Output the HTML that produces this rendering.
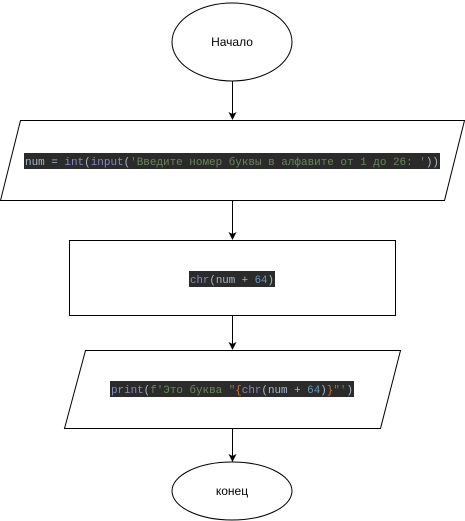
<!DOCTYPE html>
<html><head><meta charset="utf-8"><style>
body{margin:0;width:465px;height:521px;background:#fff;overflow:hidden}
svg{display:block}
.code{font-family:"Liberation Mono","DejaVu Sans Mono",monospace;font-size:10.8px}
</style></head><body>
<svg width="465" height="521" viewBox="0 0 465 521">
<defs><marker id="ah" markerWidth="8" markerHeight="8" refX="7" refY="4" orient="auto" markerUnits="userSpaceOnUse"><path d="M0,0 L8,4 L0,8 L2,4 z" fill="#000"/></marker></defs>
<g stroke="#000" stroke-width="1" fill="#fff">
<ellipse cx="232" cy="42" rx="60" ry="39"/>
<polygon points="20.5,120.5 464.5,120.5 444.5,200.5 0.5,200.5"/>
<rect x="69.5" y="240.5" width="326" height="75"/>
<polygon points="85.5,350.5 400.5,350.5 380.5,428.5 64.5,428.5"/>
<ellipse cx="232" cy="491" rx="60" ry="29"/>
</g>
<g stroke="#000" stroke-width="1" marker-end="url(#ah)">
<line x1="232.5" y1="81" x2="232.5" y2="119"/>
<line x1="232.5" y1="201" x2="232.5" y2="239"/>
<line x1="232.5" y1="316" x2="232.5" y2="349"/>
<line x1="232.5" y1="429" x2="232.5" y2="461"/>
</g>
<text x="232" y="46" text-anchor="middle" font-family="Liberation Sans, sans-serif" font-size="12">Начало</text>
<text x="232" y="495" text-anchor="middle" font-family="Liberation Sans, sans-serif" font-size="12">конец</text>
<rect x="24" y="153" width="416" height="16" fill="#2b2b2b"/>
<text class="code" x="25" y="165" textLength="414" lengthAdjust="spacingAndGlyphs"><tspan fill="#a9b7c6">num = </tspan><tspan fill="#8888c6">int</tspan><tspan fill="#a9b7c6">(</tspan><tspan fill="#8888c6">input</tspan><tspan fill="#a9b7c6">(</tspan><tspan fill="#6a8759">'Введите номер буквы в алфавите от 1 до 26: '</tspan><tspan fill="#a9b7c6">))</tspan></text>
<rect x="189" y="271" width="86" height="16" fill="#2b2b2b"/>
<text class="code" x="190" y="283" textLength="84" lengthAdjust="spacingAndGlyphs"><tspan fill="#8888c6">chr</tspan><tspan fill="#a9b7c6">(num + </tspan><tspan fill="#6897bb">64</tspan><tspan fill="#a9b7c6">)</tspan></text>
<rect x="110" y="381" width="244" height="16" fill="#2b2b2b"/>
<text class="code" x="111" y="393" textLength="242" lengthAdjust="spacingAndGlyphs"><tspan fill="#8888c6">print</tspan><tspan fill="#a9b7c6">(</tspan><tspan fill="#6a8759">f'Это буква "</tspan><tspan fill="#cc7832">{</tspan><tspan fill="#8888c6">chr</tspan><tspan fill="#a9b7c6">(num + </tspan><tspan fill="#6897bb">64</tspan><tspan fill="#a9b7c6">)</tspan><tspan fill="#cc7832">}</tspan><tspan fill="#6a8759">"'</tspan><tspan fill="#a9b7c6">)</tspan></text>
</svg>
</body></html>
